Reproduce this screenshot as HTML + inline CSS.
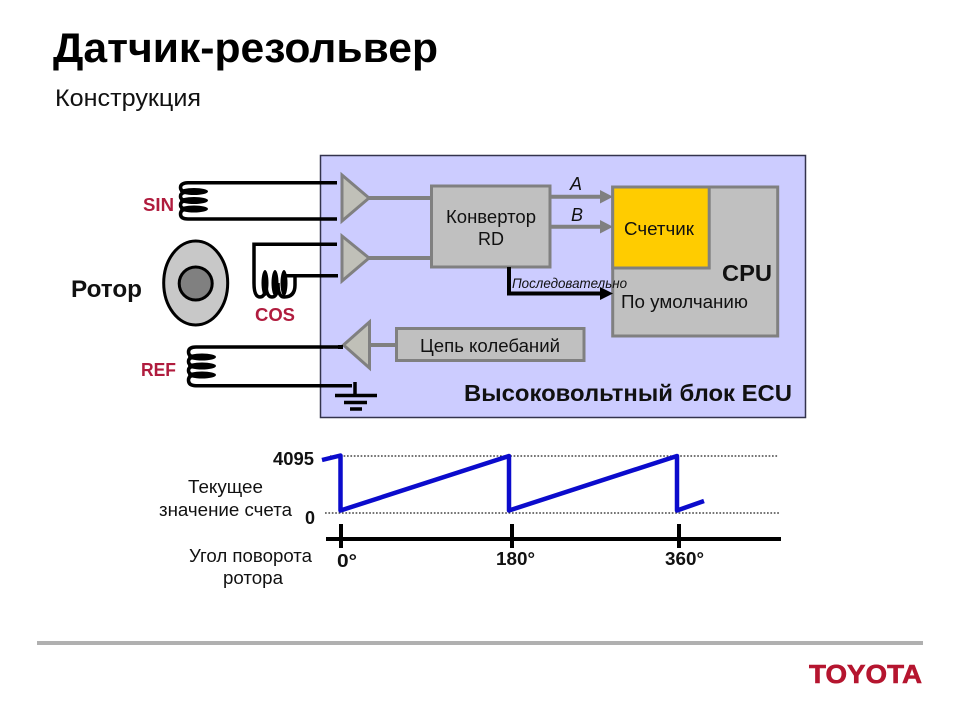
<!DOCTYPE html>
<html lang="ru"><head><meta charset="utf-8"><title>Датчик-резольвер</title>
<style>
html,body{margin:0;padding:0;background:#fff;width:960px;height:720px;overflow:hidden}
svg{display:block}
text{font-family:"Liberation Sans",sans-serif;fill:#111}
.b{font-weight:bold}
.red{fill:#b01c3e;font-weight:bold}
</style></head><body>
<svg width="960" height="720" viewBox="0 0 960 720" xmlns="http://www.w3.org/2000/svg">
<rect width="960" height="720" fill="#fff"/>
<text x="53" y="62" class="b" font-size="42" textLength="385" lengthAdjust="spacingAndGlyphs" style="fill:#000">Датчик-резольвер</text>
<text x="55" y="106" font-size="24" textLength="146" lengthAdjust="spacingAndGlyphs">Конструкция</text>

<rect x="320.5" y="155.5" width="485" height="262" fill="#ccccff" stroke="#33334d" stroke-width="1.5"/>

<!-- SIN coil -->
<g fill="none" stroke="#000" stroke-width="3.5">
<path d="M337 182.700H188Q180.500 183 180.500 187.500Q180.500 192 188 192M188 192Q180.500 192 180.500 196.500Q180.500 200.500 188 200.500M188 200.500Q180.500 200.500 180.500 205Q180.500 209 188 209M188 209Q180.500 209 180.500 214Q180.500 219 188 219H337"/>
<!-- COS coil -->
<path d="M337 244.300H254V283Q254 297 260 297Q266 297 266 283M266 283Q266 297 272 297Q278 297 278 283M278 283Q278 297 284 297Q295 297 295 285V276M284 275.700H338"/>
<!-- REF coil -->
<path d="M343 347H196Q188.500 347 188.500 352Q188.500 357 196 357M196 357Q188.500 357 188.500 361.500Q188.500 366 196 366M196 366Q188.500 366 188.500 370.500Q188.500 375 196 375M196 375Q188.500 375 188.500 380Q188.500 385.700 196 385.700H352"/>
<path d="M355 382V395M335 395.500H377M344 402.500H367" stroke-width="3.500"/>
<path d="M350 409H362"/>
</g>
<g fill="#000">
<ellipse cx="194" cy="191.500" rx="14" ry="3.500"/>
<ellipse cx="194" cy="200.500" rx="14" ry="3.500"/>
<ellipse cx="194" cy="209" rx="14" ry="3.500"/>
<ellipse cx="202" cy="357" rx="14" ry="3.500"/>
<ellipse cx="202" cy="366" rx="14" ry="3.500"/>
<ellipse cx="202" cy="375" rx="14" ry="3.500"/>
<ellipse cx="265" cy="283" rx="3.500" ry="13"/>
<ellipse cx="275" cy="283" rx="3.500" ry="13"/>
<ellipse cx="284" cy="283" rx="3.500" ry="13"/>
</g>

<!-- Rotor -->
<ellipse cx="195.700" cy="283" rx="32" ry="42" fill="#c8c8c8" stroke="#000" stroke-width="3"/>
<circle cx="195.700" cy="283.500" r="16.500" fill="#808080" stroke="#000" stroke-width="3"/>

<!-- Amp connectors -->
<g stroke="#808080" stroke-width="4" fill="none">
<path d="M369 198H432M369 258H432M370 345H397"/>
<path d="M550 196.700H602M550 226.700H602"/>
</g>
<g fill="#c0c0b8" stroke="#808080" stroke-width="3" stroke-linejoin="miter">
<path d="M342 175L369 198L342 221Z"/>
<path d="M342 236L369 258L342 281Z"/>
<path d="M343.500 345L369.500 322V368Z"/>
</g>
<path d="M338 347H343" stroke="#000" stroke-width="4"/>

<g fill="#c0c0c0" stroke="#808080" stroke-width="3">
<rect x="431.500" y="186" width="118.500" height="81"/>
<rect x="612.700" y="187" width="165" height="149"/>
<rect x="396.500" y="328.500" width="187.500" height="32"/>
</g>
<rect x="612.700" y="187" width="96.500" height="81" fill="#ffcc00" stroke="#808080" stroke-width="3"/>

<path d="M600 190L613 196.700L600 203.500ZM600 220L613 226.700L600 233.500Z" fill="#808080"/>
<path d="M509 267V293.500H602" fill="none" stroke="#000" stroke-width="4"/>
<path d="M600 287L613 293.500L600 300Z" fill="#000"/>

<text x="570" y="190" font-size="18" font-style="italic">A</text>
<text x="571" y="221" font-size="18" font-style="italic">B</text>
<text x="491" y="223" font-size="18" text-anchor="middle" textLength="90" lengthAdjust="spacingAndGlyphs">Конвертор</text>
<text x="491" y="245" font-size="18" text-anchor="middle">RD</text>
<text x="624" y="235" font-size="18" textLength="70" lengthAdjust="spacingAndGlyphs">Счетчик</text>
<text x="722" y="281" font-size="23.500" class="b" textLength="50" lengthAdjust="spacingAndGlyphs">CPU</text>
<text x="512" y="288" font-size="14" font-style="italic" textLength="115" lengthAdjust="spacingAndGlyphs">Последовательно</text>
<text x="621" y="308" font-size="18.500" textLength="127" lengthAdjust="spacingAndGlyphs">По умолчанию</text>
<text x="420" y="352" font-size="18.500" textLength="140" lengthAdjust="spacingAndGlyphs">Цепь колебаний</text>
<text x="464" y="401" font-size="23.500" class="b" textLength="328" lengthAdjust="spacingAndGlyphs">Высоковольтный блок ECU</text>

<text x="143" y="211" font-size="18" class="red" textLength="31" lengthAdjust="spacingAndGlyphs">SIN</text>
<text x="255" y="321" font-size="18" class="red" textLength="40" lengthAdjust="spacingAndGlyphs">COS</text>
<text x="141" y="376" font-size="18" class="red" textLength="35" lengthAdjust="spacingAndGlyphs">REF</text>
<text x="71" y="297" font-size="24" class="b" textLength="71" lengthAdjust="spacingAndGlyphs">Ротор</text>

<!-- Graph -->
<path d="M330 456H778M325 513H780" stroke="#222" stroke-width="1.300" stroke-dasharray="1.700 1.700" fill="none"/>
<path d="M322 460L340.500 455.500V510.500L509 456V510.500L677 456V510.500L704 501" fill="none" stroke="#0b0bcc" stroke-width="4.500" stroke-linejoin="round"/>
<path d="M326 539H781" stroke="#000" stroke-width="4"/>
<path d="M341 524V548M512 524V548M679 524V548" stroke="#000" stroke-width="4"/>

<text x="273" y="465" font-size="18" class="b" textLength="41" lengthAdjust="spacingAndGlyphs">4095</text>
<text x="305" y="524" font-size="18" class="b">0</text>
<text x="337" y="567" font-size="18" class="b" textLength="20" lengthAdjust="spacingAndGlyphs">0°</text>
<text x="496" y="565" font-size="18" class="b" textLength="39" lengthAdjust="spacingAndGlyphs">180°</text>
<text x="665" y="565" font-size="18" class="b" textLength="39" lengthAdjust="spacingAndGlyphs">360°</text>
<text x="188" y="493" font-size="18" textLength="75" lengthAdjust="spacingAndGlyphs">Текущее</text>
<text x="159" y="516" font-size="18" textLength="133" lengthAdjust="spacingAndGlyphs">значение счета</text>
<text x="189" y="562" font-size="18" textLength="123" lengthAdjust="spacingAndGlyphs">Угол поворота</text>
<text x="223" y="584" font-size="18" textLength="60" lengthAdjust="spacingAndGlyphs">ротора</text>

<!-- Footer -->
<rect x="37" y="641" width="886" height="4" fill="#b0b0b0"/>
<text x="809" y="683" font-size="26" font-weight="bold" style="fill:#b5152f" textLength="113" lengthAdjust="spacingAndGlyphs" stroke="#b5152f" stroke-width="0.600">TOYOTA</text>
</svg>
</body></html>
